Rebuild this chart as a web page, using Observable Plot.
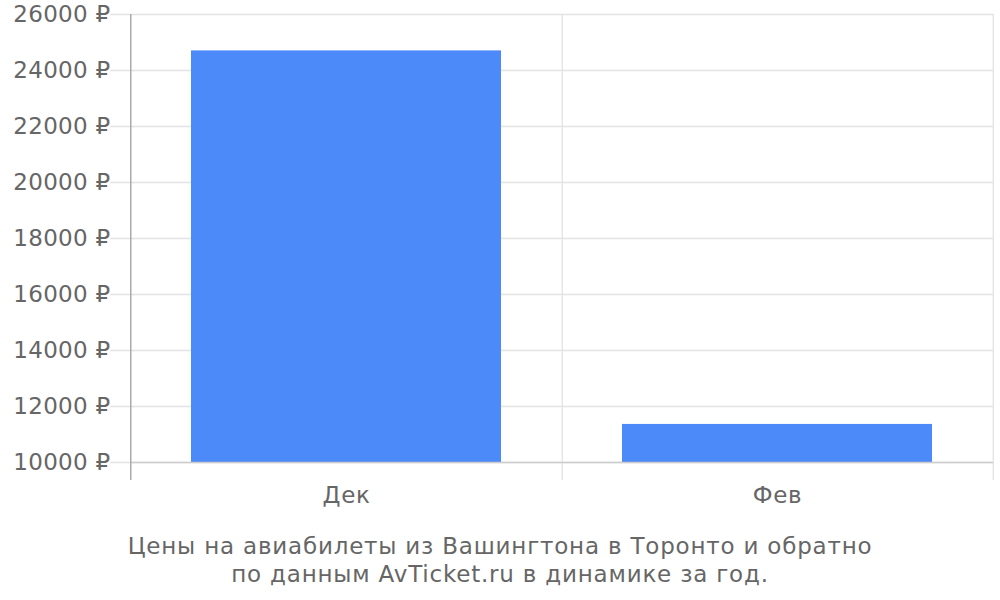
<!DOCTYPE html>
<html>
<head>
<meta charset="utf-8">
<script src="https://cdn.jsdelivr.net/npm/d3@7"></script>
<script src="https://cdn.jsdelivr.net/npm/@observablehq/plot@0.6"></script>
<style>
  html, body { margin: 0; padding: 0; background: #fff; }
  #chart { width: 1000px; }
  .caption { font-family: "DejaVu Sans", sans-serif; font-size: 23px; letter-spacing: 0.8px; color: #666; text-align: center; line-height: 28px; margin-top: 17px; }
  .ylab text { letter-spacing: 0.3px; }
  .xlab text { letter-spacing: 0.6px; }
</style>
</head>
<body>
<div id="chart"></div>
<script>
const months = ["Дек", "Фев"];
const prices = [24700, 11360];
const yDomain = [10000, 26000];
const yTicks = [10000, 12000, 14000, 16000, 18000, 20000, 22000, 24000, 26000];
const captionLines = ["Цены на авиабилеты из Вашингтона в Торонто и обратно", "по данным AvTicket.ru в динамике за год."];

const data = months.map((m, i) => ({month: m, price: prices[i]}));

const W = 1000, H = 515, mL = 130, mR = 7, mT = 14, mB = 53;
const step = (W - mL - mR) / months.length;

const chart = Plot.plot({
  width: W, height: H,
  marginLeft: mL, marginRight: mR, marginTop: mT, marginBottom: mB,
  style: {fontFamily: "DejaVu Sans, sans-serif", fontSize: "22px", color: "#666", background: "#fff"},
  x: {domain: months, paddingInner: 0.28, paddingOuter: 0.14, label: null},
  y: {domain: yDomain, ticks: yTicks, label: null},
  marks: [
    Plot.ruleY(yTicks, {stroke: "#e3e3e3", strokeWidth: 1.3, insetLeft: -20}),
    Plot.ruleX(months, {x: d => d, dx: step / 2, stroke: "#e3e3e3", strokeWidth: 1.3, insetBottom: -18}),
    Plot.barY(data, {x: "month", y1: () => yDomain[0], y2: "price", fill: "#4c8af9"}),
    Plot.ruleY([yDomain[0]], {stroke: "#cccccc", strokeWidth: 1.5}),
    Plot.ruleX([months[0]], {x: d => d, dx: -step / 2, stroke: "#aaaaaa", strokeWidth: 1.5, insetBottom: -18}),
    Plot.axisY({ticks: yTicks, tickSize: 0, tickPadding: 20, tickFormat: d => d + " ₽", fontSize: 23, fill: "#666", className: "ylab"}),
    Plot.axisX({tickSize: 0, tickPadding: 24, fontSize: 23, fill: "#666", className: "xlab"})
  ]
});
document.getElementById("chart").appendChild(chart);

const cap = document.createElement("div");
cap.className = "caption";
cap.innerHTML = captionLines.map(s => `<div>${s}</div>`).join("");
document.getElementById("chart").appendChild(cap);
</script>
</body>
</html>
